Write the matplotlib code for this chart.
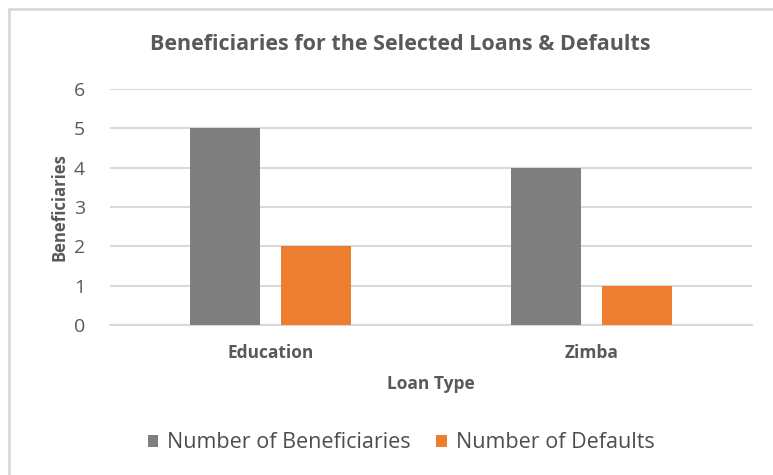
import numpy as np
import matplotlib.pyplot as plt
from matplotlib.patches import Rectangle

plt.rcParams['font.family'] = ['Open Sans', 'DejaVu Sans']

loan_types = ['Education', 'Zimba']
beneficiaries = [5, 4]
defaults = [2, 1]
series_names = ['Number of Beneficiaries', 'Number of Defaults']
colors = ['#7f7f7f', '#ed7d31']
text_color = '#595959'

fig = plt.figure(figsize=(7.73, 4.75), dpi=100)
fig.patches.append(Rectangle((9 / 773, -0.01), 1.0, 1 - 9 / 475 + 0.01,
                             transform=fig.transFigure, fill=False,
                             edgecolor='#d9d9d9', linewidth=2, zorder=0))

ax = fig.add_axes([110 / 773, 1 - 325 / 475, 642 / 773, 236 / 475])

x = np.arange(len(loan_types))
w = 0.218
b1 = ax.bar(x - 0.142, beneficiaries, w, color=colors[0], label=series_names[0], zorder=3)
b2 = ax.bar(x + 0.143, defaults, w, color=colors[1], label=series_names[1], zorder=3)

ax.set_xlim(-0.5, 1.5)
ax.set_ylim(0, 6)
ax.set_yticks(range(7))
ax.yaxis.grid(True, color='#d9d9d9', linewidth=1.5)
ax.set_axisbelow(True)
for s in ['top', 'right', 'left']:
    ax.spines[s].set_visible(False)
ax.spines['bottom'].set_color('#d9d9d9')
ax.spines['bottom'].set_linewidth(1.5)
ax.tick_params(axis='both', length=0)
ax.tick_params(axis='y', labelsize=14, labelcolor=text_color, pad=18)
ax.set_xticks(x)
ax.set_xticklabels(loan_types, fontsize=12.5, fontweight='bold', color=text_color)
ax.tick_params(axis='x', pad=14)

ax.set_xlabel('Loan Type', fontsize=12.5, fontweight='bold', color=text_color, labelpad=9)
ax.set_ylabel('Beneficiaries', fontsize=12, fontweight='bold', color=text_color, labelpad=4)

fig.text(400 / 773, 1 - 45 / 475, 'Beneficiaries for the Selected Loans & Defaults',
         ha='center', va='center', fontsize=15.5, fontweight='bold', color=text_color)

fig.legend(handles=[b1, b2], loc='center', bbox_to_anchor=(401 / 773, 1 - 443 / 475),
           ncol=2, frameon=False, fontsize=15.5, labelcolor='#4d4d4d',
           handlelength=0.5, handleheight=0.5, handletextpad=0.4, columnspacing=1.2)

fig.savefig('out.png', dpi=100, facecolor='white')
